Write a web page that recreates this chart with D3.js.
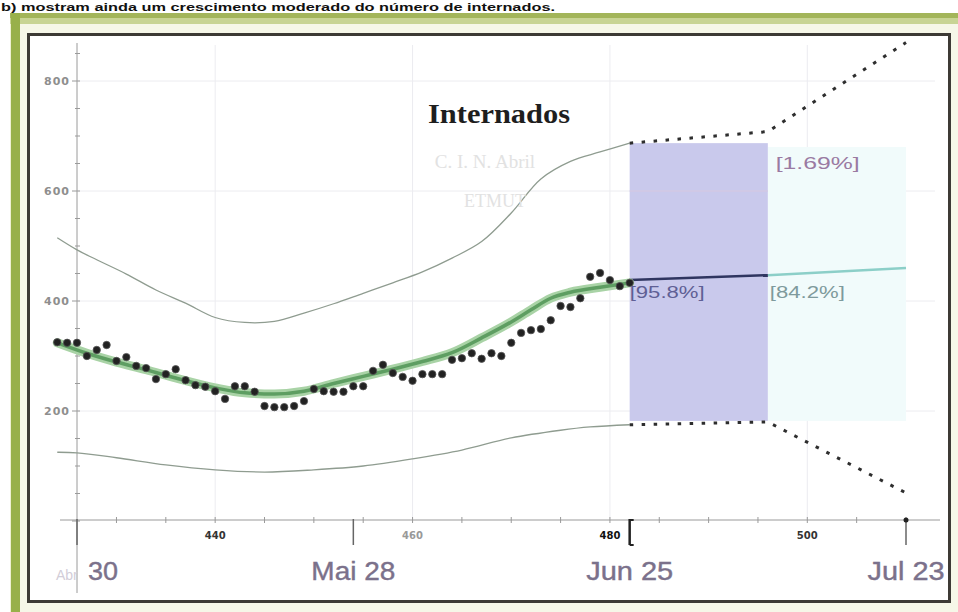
<!DOCTYPE html>
<html>
<head>
<meta charset="utf-8">
<script src="https://cdn.jsdelivr.net/npm/d3@7"></script>
<style>
  html, body { margin: 0; padding: 0; background: #fff; }
  svg { display: block; }
</style>
</head>
<body>
<svg id="chart" width="958" height="612"></svg>
<script>
// Observed daily admissions (day number, count)
const obsDays = [424,425,426,427,428,429,430,431,432,433,434,435,436,437,438,439,440,441,442,443,444,445,446,447,448,449,450,451,452,453,454,455,456,457,458,459,460,461,462,463,464,465,466,467,468,469,470,471,472,473,474,475,476,477,478,479,480,481,482];
const obsValues = [325,324,324,300,311,320,291,298,282,278,258,267,276,256,247,244,236,222,245,245,235,209,207,207,209,218,240,236,235,235,245,245,273,284,269,262,255,267,267,267,293,296,305,295,305,300,324,342,347,349,365,391,389,405,444,451,438,427,433];

// Smoothed fit
const fitDays = [424,427,430,433,436,440,443,446,449,452,455,458,461,464,467,470,472,474,476,479,482];
const fitValues = [324,305,289,275,260,242,233,231,236,250,263,276,290,306,333,362,384,405,416,425,433];

// Upper and lower envelope
const upperDays = [424,426,428,431,434,437,440,443,446,449,452,455,458,461,464,467,470,473,476,479,482];
const upperValues = [515,493,475,449,420,396,370,361,363,378,395,414,433,453,478,508,560,622,654,671,687];
const lowerDays = [424,426,430,435,440,445,450,455,460,465,470,475,478,482];
const lowerValues = [125,124,115,102,93,89,93,100,113,129,151,165,171,175];

// Projection
const projDays = [482,496,510];
const projMean = [438,447,460];
const projUpper = [687,708,870];
const projLower = [175,180,51];

// Axes
const yTicks = [200,400,600,800];
const dayTicks = [440,460,480,500];
const dateDays = [426,454,482,510];
const dateLabels = ["30","Mai 28","Jun 25","Jul 23"];
const bandLabels = ["[95.8%]","[84.2%]","[1.69%]"];
const title = "Internados";
const headline = "b) mostram ainda um crescimento moderado do número de internados.";

const svg = d3.select("#chart");
const x = d3.scaleLinear().domain([426, 510]).range([77, 906]);
const y = d3.scaleLinear().domain([0, 800]).range([521, 81]);

// ---- page frame ----
svg.append("text").attr("x", 1).attr("y", 11)
  .attr("font-family", "Liberation Sans, Arial, sans-serif").attr("font-weight", 700)
  .attr("font-size", 11).attr("fill", "#111").attr("textLength", 554)
  .attr("lengthAdjust", "spacingAndGlyphs")
  .text(headline);

svg.append("rect").attr("x", 10).attr("y", 13).attr("width", 948).attr("height", 599).attr("fill", "#eef0d2");
svg.append("rect").attr("x", 10).attr("y", 13).attr("width", 948).attr("height", 5).attr("fill", "#a3b55a");
svg.append("rect").attr("x", 10).attr("y", 18).attr("width", 948).attr("height", 6).attr("fill", "#c8d494");
svg.append("rect").attr("x", 11).attr("y", 13).attr("width", 9).attr("height", 599).attr("fill", "#98b04a");
svg.append("rect").attr("x", 20).attr("y", 24).attr("width", 938).attr("height", 588).attr("fill", "#f6f7e8");
svg.append("rect").attr("x", 28.5).attr("y", 34.5).attr("width", 921).attr("height", 567)
  .attr("fill", "#fff").attr("stroke", "#3d3a35").attr("stroke-width", 3);

// ---- gridlines ----
const grid = svg.append("g").attr("stroke", "#ececf0").attr("stroke-width", 1);
yTicks.forEach(v => grid.append("line").attr("x1", 78).attr("x2", 935).attr("y1", y(v)).attr("y2", y(v)));
dayTicks.forEach(d => grid.append("line").attr("x1", x(d)).attr("x2", x(d)).attr("y1", 45).attr("y2", 519));

// ---- projection shading ----
svg.append("rect").attr("x", x(496)).attr("y", y(680)).attr("width", x(510) - x(496)).attr("height", y(182) - y(680))
  .attr("fill", "#f1fbfb");
svg.append("rect").attr("x", x(482)).attr("y", y(687)).attr("width", x(496) - x(482)).attr("height", y(182) - y(687))
  .attr("fill", "#c9c9ec");
// gridline through shading
svg.append("line").attr("x1", x(482)).attr("x2", x(496)).attr("y1", y(600)).attr("y2", y(600))
  .attr("stroke", "#d7c8e0").attr("stroke-width", 1);

// ---- axes ----
const axisG = svg.append("g").attr("stroke", "#9a9a9a").attr("stroke-width", 1);
axisG.append("line").attr("x1", 77).attr("x2", 77).attr("y1", 43).attr("y2", 593);
axisG.append("line").attr("x1", 60).attr("x2", 940).attr("y1", 520).attr("y2", 520);
d3.range(0, 851, 50).forEach(v => {
  const major = v % 200 === 0;
  axisG.append("line").attr("x1", major ? 72 : 75).attr("x2", 80).attr("y1", y(v)).attr("y2", y(v));
});
d3.range(430, 511, 5).forEach(d => {
  axisG.append("line").attr("x1", x(d)).attr("x2", x(d)).attr("y1", 517).attr("y2", 523);
});

svg.append("g").selectAll("text").data(yTicks).join("text")
  .attr("x", 70).attr("y", d => y(d) + 4).attr("text-anchor", "end")
  .attr("font-family", "DejaVu Sans, sans-serif").attr("font-size", 11).attr("font-weight", 700)
  .attr("fill", "#8e8e8e").attr("letter-spacing", 1).text(d => d);

const dayColors = ["#333", "#999", "#111", "#333"];
svg.append("g").selectAll("text").data(dayTicks).join("text")
  .attr("x", d => x(d)).attr("y", 539).attr("text-anchor", "middle")
  .attr("font-family", "DejaVu Sans, sans-serif").attr("font-size", 10).attr("font-weight", 700)
  .attr("fill", (d, i) => dayColors[i]).text(d => d);

// date axis ticks
const dateG = svg.append("g");
dateDays.forEach((d, i) => {
  dateG.append("line").attr("x1", x(d)).attr("x2", x(d)).attr("y1", 519).attr("y2", 545)
    .attr("stroke", i === 2 ? "#222" : "#666").attr("stroke-width", i === 2 ? 2.5 : 1.5);
});
dateG.append("line").attr("x1", x(482)).attr("x2", x(482) + 4).attr("y1", 520).attr("y2", 520).attr("stroke", "#222").attr("stroke-width", 2);
dateG.append("line").attr("x1", x(482)).attr("x2", x(482) + 4).attr("y1", 545).attr("y2", 545).attr("stroke", "#222").attr("stroke-width", 2);
dateG.append("circle").attr("cx", x(510)).attr("cy", 520).attr("r", 2.5).attr("fill", "#222");

svg.append("text").attr("x", 56).attr("y", 580).attr("font-family", "Liberation Sans, sans-serif")
  .attr("font-size", 14).attr("fill", "#d2cdd8").text("Abr");
const dateWidths = [30, 84, 87, 77];
svg.append("g").selectAll("text").data(dateLabels).join("text")
  .attr("x", (d, i) => i === 0 ? 88 : x(dateDays[i]) - dateWidths[i] / 2)
  .attr("y", 580)
  .attr("font-family", "Liberation Sans, Arial, sans-serif").attr("font-size", 25)
  .attr("fill", "#7b718b").attr("stroke", "#7b718b").attr("stroke-width", 0.4)
  .attr("textLength", (d, i) => dateWidths[i]).attr("lengthAdjust", "spacingAndGlyphs")
  .text(d => d);

// ---- envelope lines ----
const line = d3.line().x(d => x(d[0])).y(d => y(d[1])).curve(d3.curveMonotoneX);
const smooth = d3.line().x(d => x(d[0])).y(d => y(d[1])).curve(d3.curveCatmullRom.alpha(0.5));
const zip = (a, b) => a.map((v, i) => [v, b[i]]);

svg.append("path").datum(zip(upperDays, upperValues)).attr("d", smooth)
  .attr("fill", "none").attr("stroke", "#8f9c90").attr("stroke-width", 1.3);
svg.append("path").datum(zip(lowerDays, lowerValues)).attr("d", smooth)
  .attr("fill", "none").attr("stroke", "#8f9c90").attr("stroke-width", 1.3);

// ---- projection lines ----
const straight = d3.line().x(d => x(d[0])).y(d => y(d[1]));
const projG = svg.append("g").attr("fill", "none").attr("stroke", "#2e2e2e")
  .attr("stroke-width", 3).attr("stroke-dasharray", "3.5,8.5");
projG.append("path").datum(zip(projDays, projUpper)).attr("d", straight);
projG.append("path").datum(zip(projDays, projLower)).attr("d", straight);

svg.append("path").datum(zip(projDays.slice(1), projMean.slice(1))).attr("d", straight)
  .attr("fill", "none").attr("stroke", "#8ccfc8").attr("stroke-width", 2.5);
svg.append("path").datum(zip(projDays.slice(0, 2), projMean.slice(0, 2))).attr("d", straight)
  .attr("fill", "none").attr("stroke", "#2f3560").attr("stroke-width", 2.5);

// ---- fitted curve ----
svg.append("path").datum(zip(fitDays, fitValues)).attr("d", line)
  .attr("fill", "none").attr("stroke", "#a9d3a6").attr("stroke-width", 9).attr("stroke-linecap", "round");
svg.append("path").datum(zip(fitDays, fitValues)).attr("d", line)
  .attr("fill", "none").attr("stroke", "#5e9e62").attr("stroke-width", 3.5).attr("stroke-linecap", "round");

// ---- observations ----
svg.append("g").selectAll("circle").data(zip(obsDays, obsValues)).join("circle")
  .attr("cx", d => x(d[0])).attr("cy", d => y(d[1])).attr("r", 3.7)
  .attr("fill", "#222").attr("stroke", "#555").attr("stroke-width", 0.8);

// ---- interval labels ----
const bandPos = [[482, 406, "#5f5f95"], [496.2, 406, "#7e9a9c"], [496.8, 640, "#9a7aa2"]];
svg.append("g").selectAll("text").data(bandLabels).join("text")
  .attr("x", (d, i) => x(bandPos[i][0]))
  .attr("y", (d, i) => y(bandPos[i][1]))
  .attr("font-family", "Liberation Sans, Arial, sans-serif").attr("font-size", 16)
  .attr("fill", (d, i) => bandPos[i][2])
  .attr("textLength", (d, i) => i === 2 ? 84 : 75).attr("lengthAdjust", "spacingAndGlyphs")
  .text(d => d);

// ---- title and faint annotations ----
svg.append("text").attr("x", 499).attr("y", 123).attr("text-anchor", "middle")
  .attr("font-family", "Liberation Serif, serif").attr("font-weight", 700).attr("font-size", 27)
  .attr("fill", "#1e1e1e").attr("textLength", 142).attr("lengthAdjust", "spacingAndGlyphs")
  .text(title);
svg.append("text").attr("x", 485).attr("y", 168).attr("text-anchor", "middle")
  .attr("font-family", "Liberation Serif, serif").attr("font-size", 19).attr("fill", "#e2e2e2")
  .text("C. I. N. Abril");
svg.append("text").attr("x", 495).attr("y", 207).attr("text-anchor", "middle")
  .attr("font-family", "Liberation Serif, serif").attr("font-size", 18).attr("fill", "#e2e2e2")
  .text("ETMUT");
</script>
</body>
</html>
